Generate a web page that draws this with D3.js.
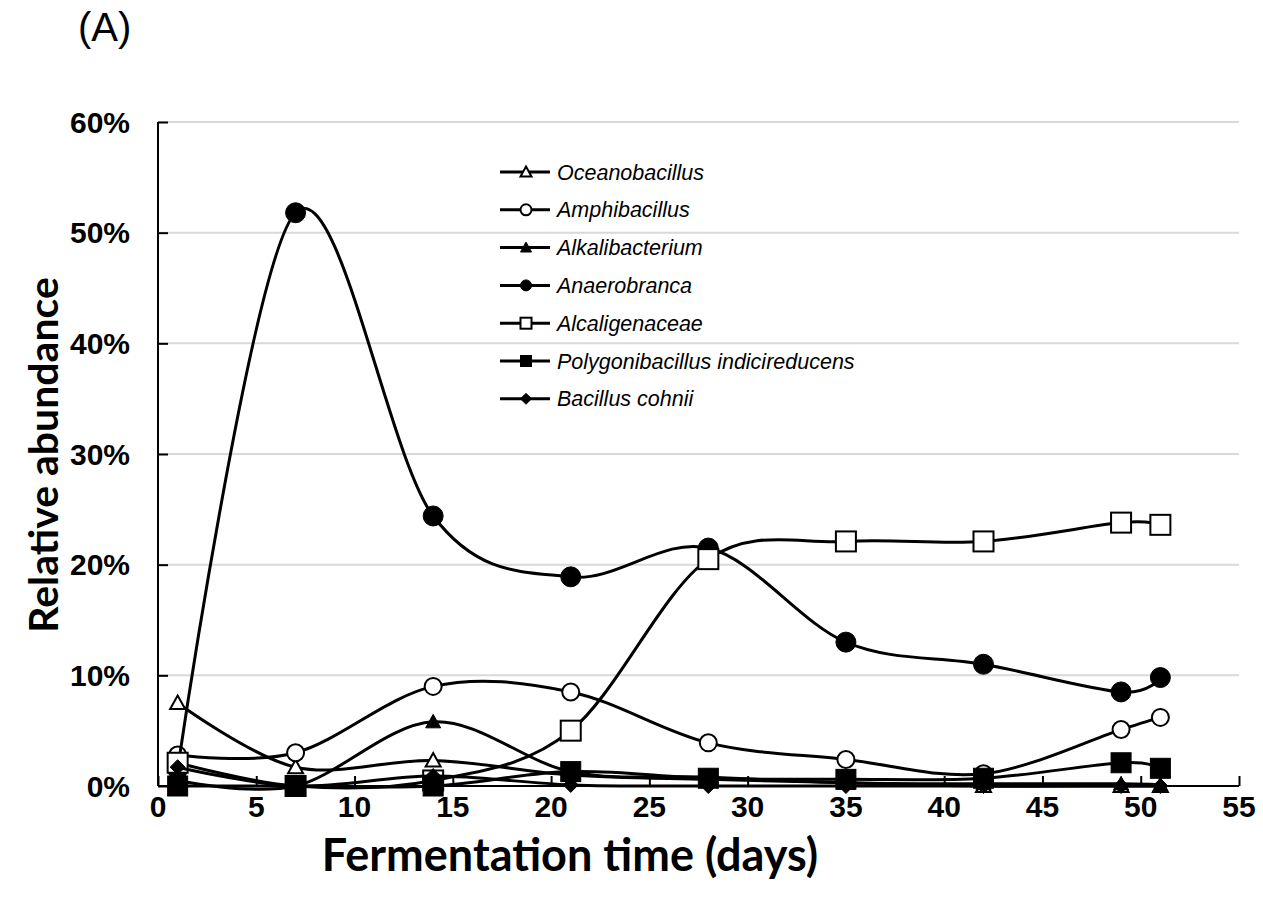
<!DOCTYPE html>
<html>
<head>
<meta charset="utf-8">
<script src="https://cdn.jsdelivr.net/npm/d3@7"></script>
<style>
  body { margin: 0; background: #fff; }
  text { font-family: "Liberation Sans", Arial, sans-serif; }
  .tick-label { font-weight: bold; font-size: 30px; }
  .axis-title { font-family: "Lato", "Open Sans", sans-serif; font-weight: bold; }
  .legend-label { font-style: italic; font-size: 21.5px; }
</style>
</head>
<body>
<div id="chart"></div>
<script>
const days = [1, 7, 14, 21, 28, 35, 42, 49, 51];

const seriesNames = ["Oceanobacillus", "Amphibacillus", "Alkalibacterium", "Anaerobranca",
  "Alcaligenaceae", "Polygonibacillus indicireducens", "Bacillus cohnii"];

// relative abundance in %
const oceanobacillus  = [7.5, 1.7, 2.3, 1.0, 0.6, 0.3, 0.0, 0.0, 0.0];
const amphibacillus   = [2.8, 3.0, 9.0, 8.5, 3.9, 2.4, 1.1, 5.1, 6.2];
const alkalibacterium = [0.5, 0.0, 5.8, 1.3, 0.8, 0.3, 0.2, 0.2, 0.1];
const anaerobranca    = [1.5, 51.8, 24.4, 18.9, 21.5, 13.0, 11.0, 8.5, 9.8];
const alcaligenaceae  = [2.1, 0.0, 0.5, 5.0, 20.5, 22.1, 22.1, 23.8, 23.6];
const polygonibacillus = [0.0, 0.0, 0.0, 1.3, 0.7, 0.6, 0.7, 2.1, 1.6];
const bacillusCohnii  = [1.7, 0.0, 0.9, 0.1, 0.0, 0.0, 0.0, 0.0, 0.0];

const xTicks = [0, 5, 10, 15, 20, 25, 30, 35, 40, 45, 50, 55];
const yTicks = [0, 10, 20, 30, 40, 50, 60];

const seriesValues = [oceanobacillus, amphibacillus, alkalibacterium, anaerobranca,
  alcaligenaceae, polygonibacillus, bacillusCohnii];
// marker: [shape, filled, size]
const markers = [
  ["triangle", false, 15], ["circle", false, 17], ["triangle", true, 15], ["circle", true, 20],
  ["square", false, 20], ["square", true, 20], ["diamond", true, 15]
];

const W = 1263, H = 910;
const svg = d3.select("#chart").append("svg")
  .attr("width", W)
  .attr("height", H)

const xScale = d3.scaleLinear().domain([0, 55]).range([158, 1239]);
const yScale = d3.scaleLinear().domain([0, 60]).range([786, 122]);

// gridlines
svg.append("g").selectAll("line")
  .data(yTicks.filter(d => d > 0))
  .join("line")
    .attr("x1", xScale(0))
    .attr("x2", xScale(55))
    .attr("y1", d => yScale(d))
    .attr("y2", d => yScale(d))
    .attr("stroke", "#d9d9d9")
    .attr("stroke-width", 2)

// axes
const yAxis = svg.append("g")
  .attr("transform", `translate(${xScale(0)},0)`)
  .call(d3.axisRight(yScale).tickValues(yTicks).tickSize(10).tickFormat(""));
const xAxis = svg.append("g")
  .attr("transform", `translate(0,${yScale(0)})`)
  .call(d3.axisTop(xScale).tickValues(xTicks).tickSize(10).tickFormat(""));
[yAxis, xAxis].forEach(a => {
  a.select(".domain").attr("stroke", "#000").attr("stroke-width", 2);
  a.selectAll(".tick line").attr("stroke", "#000").attr("stroke-width", 2);
});
// plain axis lines, no outer ticks
yAxis.select(".domain").attr("d", `M0,${yScale(0)}V${yScale(60)}`);
xAxis.select(".domain").attr("d", `M${xScale(0)},0H${xScale(55)}`);

svg.append("g").selectAll("text")
  .data(yTicks)
  .join("text")
    .attr("class", "tick-label")
    .attr("x", 130)
    .attr("y", d => yScale(d))
    .attr("dy", "0.36em")
    .attr("text-anchor", "end")
    .text(d => d + "%")

svg.append("g").selectAll("text")
  .data(xTicks)
  .join("text")
    .attr("class", "tick-label")
    .attr("x", d => xScale(d))
    .attr("y", 817)
    .attr("text-anchor", "middle")
    .text(d => d)

svg.append("text")
  .attr("class", "axis-title")
  .attr("font-size", 45)
  .attr("x", 570)
  .attr("y", 871)
  .attr("text-anchor", "middle")
  .text("Fermentation time (days)")

svg.append("text")
  .attr("class", "axis-title")
  .attr("font-size", 41)
  .attr("transform", `translate(58,455) rotate(-90)`)
  .attr("text-anchor", "middle")
  .text("Relative abundance")

svg.append("text")
  .attr("x", 78)
  .attr("y", 41)
  .attr("font-size", 40)
  .text("(A)")

function drawMarker(g, shape, filled, size) {
  const s = size / 2;
  let el;
  if (shape === "circle") {
    el = g.append("circle").attr("r", s);
  } else if (shape === "square") {
    el = g.append("rect").attr("x", -s).attr("y", -s).attr("width", size).attr("height", size);
  } else if (shape === "triangle") {
    el = g.append("path").attr("d", `M0,${-s}L${s},${s * 0.8}L${-s},${s * 0.8}Z`);
  } else {
    el = g.append("path").attr("d", `M0,${-s}L${s},0L0,${s}L${-s},0Z`);
  }
  el.attr("fill", filled ? "#000" : "#fff")
    .attr("stroke", "#000")
    .attr("stroke-width", filled ? 1 : 2);
}

const line = d3.line()
  .x((d, i) => xScale(days[i]))
  .y(d => yScale(d))
  .curve(d3.curveCardinal.tension(0));

seriesValues.forEach((vals, k) => {
  const g = svg.append("g");
  g.append("path")
    .attr("d", line(vals))
    .attr("fill", "none")
    .attr("stroke", "#000")
    .attr("stroke-width", 3)
  vals.forEach((v, i) => {
    const m = g.append("g").attr("transform", `translate(${xScale(days[i])},${yScale(v)})`);
    drawMarker(m, markers[k][0], markers[k][1], markers[k][2]);
  });
});

// legend
const legend = svg.append("g").attr("transform", "translate(500,172)");
seriesNames.forEach((name, k) => {
  const row = legend.append("g").attr("transform", `translate(0,${k * 37.8})`);
  row.append("line")
    .attr("x1", 0).attr("x2", 50)
    .attr("stroke", "#000").attr("stroke-width", 3)
  const m = row.append("g").attr("transform", "translate(26,0)");
  drawMarker(m, markers[k][0], markers[k][1], 11);
  row.append("text")
    .attr("class", "legend-label")
    .attr("x", 57)
    .attr("dy", "0.35em")
    .text(name)
});
</script>
</body>
</html>
